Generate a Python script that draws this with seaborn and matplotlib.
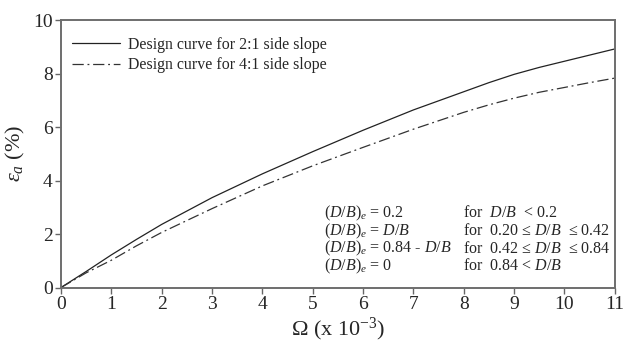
import numpy as np
import pandas as pd
import matplotlib
matplotlib.use("Agg")
import matplotlib.pyplot as plt
import seaborn as sns

# Normalised parameter Omega (x 10^-3) and design strain (%) for each side slope
omega = [0, 0.5, 1, 1.5, 2, 3, 4, 5, 6, 7, 8, 8.5, 9, 9.5, 10, 10.5, 11]
strain_2to1 = [0, 0.60, 1.22, 1.80, 2.36, 3.36, 4.25, 5.08, 5.88, 6.64, 7.32,
               7.66, 7.97, 8.23, 8.46, 8.69, 8.92]
strain_4to1 = [0, 0.55, 1.02, 1.56, 2.06, 2.95, 3.80, 4.55, 5.24, 5.92, 6.55,
               6.83, 7.08, 7.30, 7.48, 7.66, 7.83]
series_names = ["Design curve for 2:1 side slope", "Design curve for 4:1 side slope"]

x_ticks = list(range(0, 12))
y_ticks = [0, 2, 4, 6, 8, 10]

rules_left = [r"$(D/B)_e$ = 0.2", r"$(D/B)_e$ = $D/B$",
              r"$(D/B)_e$ = 0.84 - $D/B$", r"$(D/B)_e$ = 0"]
rules_right = [r"for  $D/B$  < 0.2", r"for  0.20 ≤ $D/B$  ≤ 0.42",
               r"for  0.42 ≤ $D/B$  ≤ 0.84", r"for  0.84 < $D/B$"]

df = pd.DataFrame({
    "omega": omega * 2,
    "strain": strain_2to1 + strain_4to1,
    "curve": [series_names[0]] * len(omega) + [series_names[1]] * len(omega),
})

sns.set_style("ticks")
plt.rcParams["font.family"] = ["Liberation Serif", "DejaVu Serif"]
plt.rcParams["mathtext.fontset"] = "custom"
plt.rcParams["mathtext.rm"] = "Liberation Serif"
plt.rcParams["mathtext.it"] = "Liberation Serif:italic"
plt.rcParams["mathtext.bf"] = "Liberation Serif:bold"

fig = plt.figure(figsize=(6.25, 3.46), dpi=100)
ax = fig.add_axes([0.0976, 0.169, 0.886, 0.773])

sns.lineplot(data=df, x="omega", y="strain", hue="curve", style="curve",
             palette=["#222222", "#333333"], dashes=[(None, None), (9, 3, 1.5, 3)],
             linewidth=0.9, ax=ax, legend=False)
lines = ax.get_lines()
lines[0].set_linestyle("-")
lines[1].set_dashes((9, 3, 1.5, 3))

ax.set_xlim(0, 11)
ax.set_ylim(0, 10)
ax.set_xticks(x_ticks)
ax.set_yticks(y_ticks)
ax.tick_params(axis="both", labelsize=14, length=4, width=1, color="#666666",
               direction="out", pad=2)
for s in ax.spines.values():
    s.set_color("#6e6e6e")
    s.set_linewidth(1.4)

ax.set_xlabel(r"$\Omega$ (x 10$^{-3}$)", fontsize=16, labelpad=2)
ax.set_ylabel(r"$\epsilon_a$ (%)", fontsize=16, labelpad=4)

ax.legend(lines, series_names, loc="upper left", frameon=False, fontsize=11.4,
          handlelength=3.0, handletextpad=0.5, labelspacing=0.3,
          bbox_to_anchor=(0.0, 0.98), borderaxespad=0.3)

for i, (lt, rt) in enumerate(zip(rules_left, rules_right)):
    y = 0.277 - i * 0.066
    ax.text(0.475, y, lt, transform=ax.transAxes, fontsize=11.5, va="center", ha="left")
    ax.text(0.726, y, rt, transform=ax.transAxes, fontsize=11.5, va="center", ha="left")

fig.savefig("out.png", dpi=100)
